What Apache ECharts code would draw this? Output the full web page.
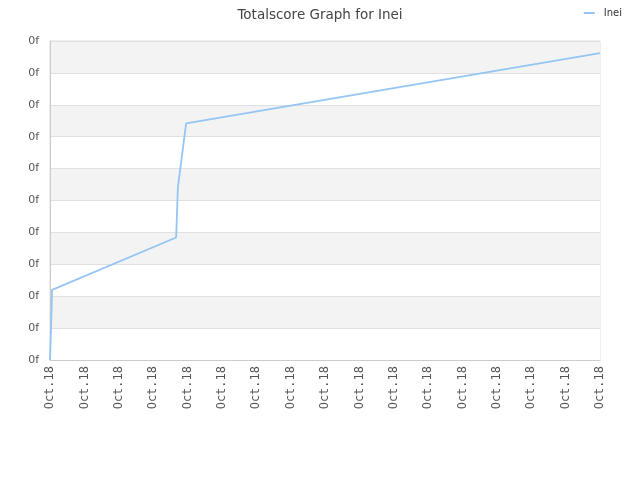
<!DOCTYPE html>
<html>
<head>
<meta charset="utf-8">
<script src="https://cdn.jsdelivr.net/npm/echarts@6/dist/echarts.min.js"></script>
<style>html,body{margin:0;padding:0;background:#fff}#c{width:640px;height:480px}</style>
</head>
<body>
<div id="c"></div>
<script>
var xTickLabel = 'Oct.18';
var yTickLabel = '0f';
var seriesName = 'Inei';
var xValues = [0, 0.03, 0.06, 3.67, 3.72, 3.96, 16];
var yValues = [0, 1.0, 2.2, 3.84, 5.41, 7.42, 9.62];

var points = xValues.map(function (x, i) { return [x, yValues[i]]; });
var chart = echarts.init(document.getElementById('c'));
chart.setOption({
  animation: false,
  title: {
    text: 'Totalscore Graph for ' + seriesName,
    left: 'center', top: 3,
    textStyle: { fontFamily: 'DejaVu Sans', fontSize: 13.5, fontWeight: 'normal', color: '#444' }
  },
  legend: {
    data: [seriesName], right: 18, top: 8, padding: 0, itemWidth: 11, itemHeight: 2,
    icon: 'rect',
    textStyle: { fontFamily: 'DejaVu Sans', fontSize: 10, color: '#333', padding: [0, 0, 0, 4] }
  },
  grid: { left: 50, right: 40, top: 41, bottom: 120, show: true, borderColor: '#ddd', borderWidth: 1 },
  xAxis: {
    type: 'value', min: 0, max: 16, interval: 1,
    axisLine: { show: true, lineStyle: { color: '#ccc' } },
    axisTick: { show: false },
    splitLine: { show: false },
    axisLabel: {
      rotate: 90, margin: 6, color: '#555', fontFamily: 'DejaVu Sans Mono', fontSize: 12,
      formatter: function () { return xTickLabel; }
    }
  },
  yAxis: {
    type: 'value', min: 0, max: 10, interval: 1,
    axisLine: { show: true, lineStyle: { color: '#ccc' } },
    axisTick: { show: false },
    splitLine: { show: true, lineStyle: { color: '#e0e0e0' } },
    splitArea: { show: true, areaStyle: { color: ['rgba(255,255,255,1)', '#f3f3f3'] } },
    axisLabel: {
      margin: 11, color: '#555', fontFamily: 'DejaVu Sans', fontSize: 11,
      formatter: function () { return yTickLabel; }
    }
  },
  series: [{
    name: seriesName, type: 'line', data: points, showSymbol: false, symbol: 'none',
    lineStyle: { color: '#94c5f5', width: 1.8 }, itemStyle: { color: '#94c5f5' }
  }]
});
</script>
</body>
</html>
